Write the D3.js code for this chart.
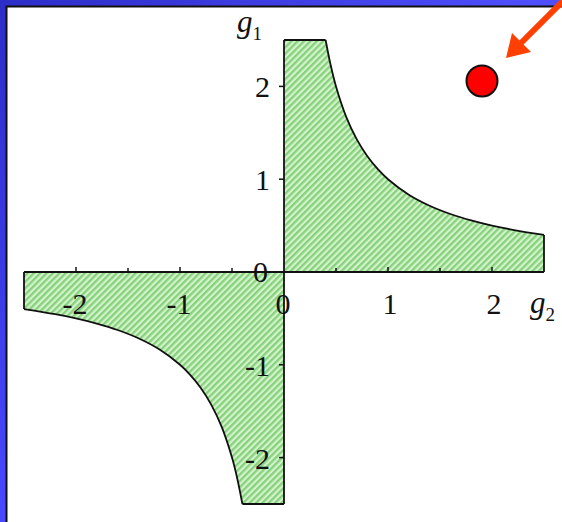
<!DOCTYPE html>
<html>
<head>
<meta charset="utf-8">
<script src="https://cdn.jsdelivr.net/npm/d3@7"></script>
<style>
  html, body { margin: 0; padding: 0; background: #fff; }
  svg { display: block; }
</style>
</head>
<body>
<svg id="chart" width="562" height="522"></svg>
<script>
// Region bounded by the hyperbola g1 = 1 / g2 (in the first and third quadrants)
const domainG2 = [-2.5, 2.5];
const domainG1 = [-2.5, 2.5];
const curveG2Pos = [0.4, 0.45, 0.5, 0.6, 0.7, 0.8, 0.9, 1.0, 1.2, 1.4, 1.6, 1.8, 2.0, 2.2, 2.5];
const curveG1Pos = [2.5, 2.222, 2.0, 1.667, 1.429, 1.25, 1.111, 1.0, 0.833, 0.714, 0.625, 0.556, 0.5, 0.455, 0.4];
const curveG2Neg = [-2.5, -2.2, -2.0, -1.8, -1.6, -1.4, -1.2, -1.0, -0.9, -0.8, -0.7, -0.6, -0.5, -0.45, -0.4];
const curveG1Neg = [-0.4, -0.455, -0.5, -0.556, -0.625, -0.714, -0.833, -1.0, -1.111, -1.25, -1.429, -1.667, -2.0, -2.222, -2.5];
const majorTicks = [-2, -1, 0, 1, 2];
const minorTicksX = [-1.5, -0.5, 0.5, 1.5];
const xTickLabels = ["-2", "-1", "0", "1", "2"];
const yTicks = [-2, -1, 0, 1, 2];
const yTickLabels = ["-2", "-1", "0", "1", "2"];

const svg = d3.select("#chart");
const W = 562, H = 522;

const x = d3.scaleLinear().domain(domainG2).range([24, 544]);
const y = d3.scaleLinear().domain(domainG1).range([504, 40]);

// Slide frame: blue band on top and left with a dark inner rule
const defs = svg.append("defs");
const topGrad = defs.append("linearGradient").attr("id", "topBand").attr("x1", 0).attr("x2", 1).attr("y1", 0).attr("y2", 0);
topGrad.append("stop").attr("offset", 0).attr("stop-color", "#2d2dc8");
topGrad.append("stop").attr("offset", 1).attr("stop-color", "#5050ff");
const leftGrad = defs.append("linearGradient").attr("id", "leftBand").attr("x1", 0).attr("x2", 0).attr("y1", 0).attr("y2", 1);
leftGrad.append("stop").attr("offset", 0).attr("stop-color", "#2d2dc8");
leftGrad.append("stop").attr("offset", 1).attr("stop-color", "#4848ff");

// Hatch pattern for the shaded region
const pat = defs.append("pattern")
  .attr("id", "hatch")
  .attr("patternUnits", "userSpaceOnUse")
  .attr("width", 4.5).attr("height", 4.5)
  .attr("patternTransform", "rotate(45)");
pat.append("rect").attr("width", 4.5).attr("height", 4.5).attr("fill", "#d4f2cc");
pat.append("rect").attr("width", 2.3).attr("height", 4.5).attr("fill", "#86d27c");

svg.append("rect").attr("x", 0).attr("y", 0).attr("width", W).attr("height", 6).attr("fill", "url(#topBand)");
svg.append("rect").attr("x", 0).attr("y", 0).attr("width", 6).attr("height", H).attr("fill", "url(#leftBand)");
svg.append("path").attr("d", `M${W},6.5H6.5V${H}`).attr("fill", "none").attr("stroke", "#111").attr("stroke-width", 2);

// Shaded regions
const posPts = [[0, 0], [0, 2.5]].concat(curveG2Pos.map((v, i) => [v, curveG1Pos[i]])).concat([[2.5, 0]]);
const negPts = [[0, 0], [-2.5, 0]].concat(curveG2Neg.map((v, i) => [v, curveG1Neg[i]])).concat([[0, -2.5]]);
const poly = d3.line().x(d => x(d[0])).y(d => y(d[1]));

svg.append("path").attr("d", poly(posPts) + "Z").attr("fill", "url(#hatch)");
svg.append("path").attr("d", poly(negPts) + "Z").attr("fill", "url(#hatch)");

// Boundary outlines
const smooth = d3.line().x(d => x(d[0])).y(d => y(d[1])).curve(d3.curveCatmullRom);
svg.append("path")
  .attr("d", smooth(curveG2Pos.map((v, i) => [v, curveG1Pos[i]])))
  .attr("fill", "none").attr("stroke", "#111").attr("stroke-width", 1.8);
svg.append("path")
  .attr("d", smooth(curveG2Neg.map((v, i) => [v, curveG1Neg[i]])))
  .attr("fill", "none").attr("stroke", "#111").attr("stroke-width", 1.8);
svg.append("path")
  .attr("d", poly([[0, 2.5], [0.4, 2.5]]) + poly([[2.5, 0.4], [2.5, 0]]) +
             poly([[-2.5, 0], [-2.5, -0.4]]) + poly([[-0.4, -2.5], [0, -2.5]]))
  .attr("fill", "none").attr("stroke", "#111").attr("stroke-width", 1.8);

// Axes through the origin
const xAxis = svg.append("g").attr("transform", `translate(0,${y(0)})`);
xAxis.append("line").attr("x1", x(-2.5)).attr("x2", x(2.5)).attr("y1", 0).attr("y2", 0)
  .attr("stroke", "#111").attr("stroke-width", 1.8);
xAxis.selectAll(".maj").data(majorTicks.filter(d => d !== 0)).enter().append("line")
  .attr("x1", d => x(d)).attr("x2", d => x(d)).attr("y1", 0).attr("y2", -5)
  .attr("stroke", "#111").attr("stroke-width", 1.5);
xAxis.selectAll(".min").data(minorTicksX).enter().append("line")
  .attr("x1", d => x(d)).attr("x2", d => x(d)).attr("y1", 0).attr("y2", -4)
  .attr("stroke", "#111").attr("stroke-width", 1.5);

const yAxis = svg.append("g").attr("transform", `translate(${x(0)},0)`);
yAxis.append("line").attr("x1", 0).attr("x2", 0).attr("y1", y(2.5)).attr("y2", y(-2.5))
  .attr("stroke", "#111").attr("stroke-width", 1.8);
yAxis.selectAll(".maj").data(yTicks.filter(d => d !== 0)).enter().append("line")
  .attr("x1", 0).attr("x2", -5).attr("y1", d => y(d)).attr("y2", d => y(d))
  .attr("stroke", "#111").attr("stroke-width", 1.5);

const fontFam = "'Liberation Serif', 'Times New Roman', serif";

// Tick labels
svg.selectAll(".xl").data(majorTicks).enter().append("text")
  .attr("x", d => x(d) + (d > 0 ? 2 : -1))
  .attr("y", y(0) + 42)
  .attr("text-anchor", "middle")
  .attr("font-family", fontFam).attr("font-size", 30).attr("fill", "#111")
  .text((d, i) => xTickLabels[i]);

svg.selectAll(".yl").data(yTicks).enter().append("text")
  .attr("x", d => d === 0 ? x(0) - 16 : x(0) - 14)
  .attr("y", d => d === 0 ? y(0) + 10 : y(d) + 11)
  .attr("text-anchor", "end")
  .attr("font-family", fontFam).attr("font-size", 30).attr("fill", "#111")
  .text((d, i) => yTickLabels[i]);

// Axis titles
const t1 = svg.append("text").attr("x", 237).attr("y", 32)
  .attr("font-family", fontFam).attr("font-size", 31).attr("fill", "#111");
t1.append("tspan").attr("font-style", "italic").text("g");
t1.append("tspan").attr("font-size", 19).attr("dy", 8).text("1");

const t2 = svg.append("text").attr("x", 530).attr("y", 313)
  .attr("font-family", fontFam).attr("font-size", 31).attr("fill", "#111");
t2.append("tspan").attr("font-style", "italic").text("g");
t2.append("tspan").attr("font-size", 19).attr("dy", 8).text("2");

// Marker and pointer arrow
svg.append("circle").attr("cx", 482).attr("cy", 81).attr("r", 15.5)
  .attr("fill", "#ff0000").attr("stroke", "#111").attr("stroke-width", 2);
svg.append("line").attr("x1", 566).attr("y1", -2).attr("x2", 520).attr("y2", 44)
  .attr("stroke", "#ff4000").attr("stroke-width", 6);
svg.append("path").attr("d", "M506,58 L512,33 L531,52 Z").attr("fill", "#ff4000");
</script>
</body>
</html>
